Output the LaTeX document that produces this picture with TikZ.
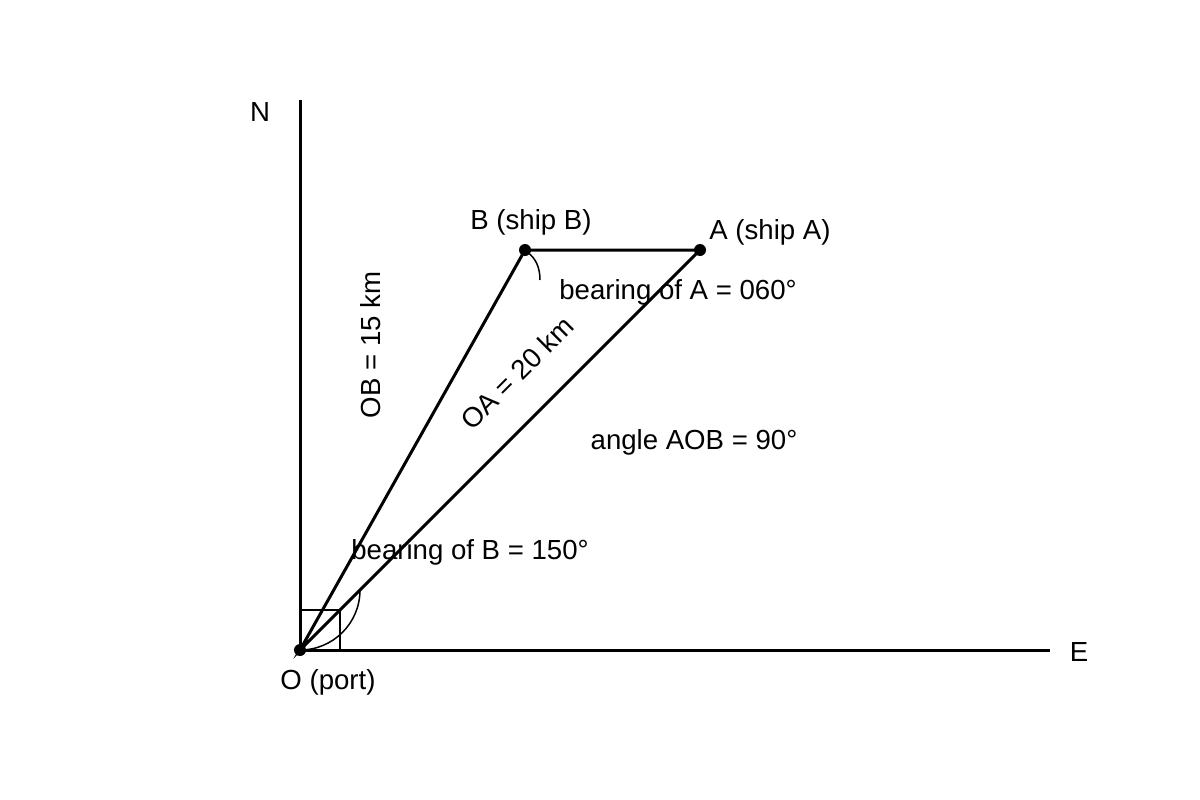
\documentclass[tikz,border=0pt]{standalone}
\usepackage{fontspec}
\setmainfont{Liberation Sans}
\begin{document}
\begin{tikzpicture}[x=1pt,y=-1pt,
  thick line/.style={line width=3pt},
  thin line/.style={line width=1.5pt},
  lbl/.style={font=\fontsize{27.6}{32}\selectfont, inner sep=0pt},
  dot/.style={circle, fill=black, inner sep=0pt, minimum size=12pt}]
\useasboundingbox (0,0) rectangle (1200,800);
\coordinate (O) at (300,650);
\coordinate (Ntop) at (300,100);
\coordinate (Eend) at (1050,650);
\coordinate (B) at (525,250);
\coordinate (A) at (700,250);
\draw[thick line] (Ntop) -- (O) -- (Eend);
\draw[thick line] (O) -- (B) -- (A) -- cycle;
\draw[thin line] (300,610) -- (340,610) -- (340,650);
\draw[thin line] (O) arc[start angle=90, end angle=0, radius=60];
\draw[thin line] (527,252) .. controls (536,258) and (540,268) .. (540,280);
\node[dot] (o) at (O) {};
\node[dot] (b) at (B) {};
\node[dot] (a) at (A) {};
\node[lbl] (n) at (260,112) {N};
\node[lbl] (e) at (1079,652) {E};
\node[lbl] (ol) at (328,682) {O (port)};
\node[lbl] (bl) at (531,222) {B (ship B)};
\node[lbl] (al) at (770,232) {A (ship A)};
\node[lbl] (ba) at (678,292) {bearing of A = 060°};
\node[lbl, rotate=45] (oa) at (517,373) {OA = 20 km};
\node[lbl, rotate=90] (ob) at (371,345) {OB = 15 km};
\node[lbl] (aob) at (694,442) {angle AOB = 90°};
\node[lbl] (bb) at (470,552) {bearing of B = 150°};
\end{tikzpicture}
\end{document}
